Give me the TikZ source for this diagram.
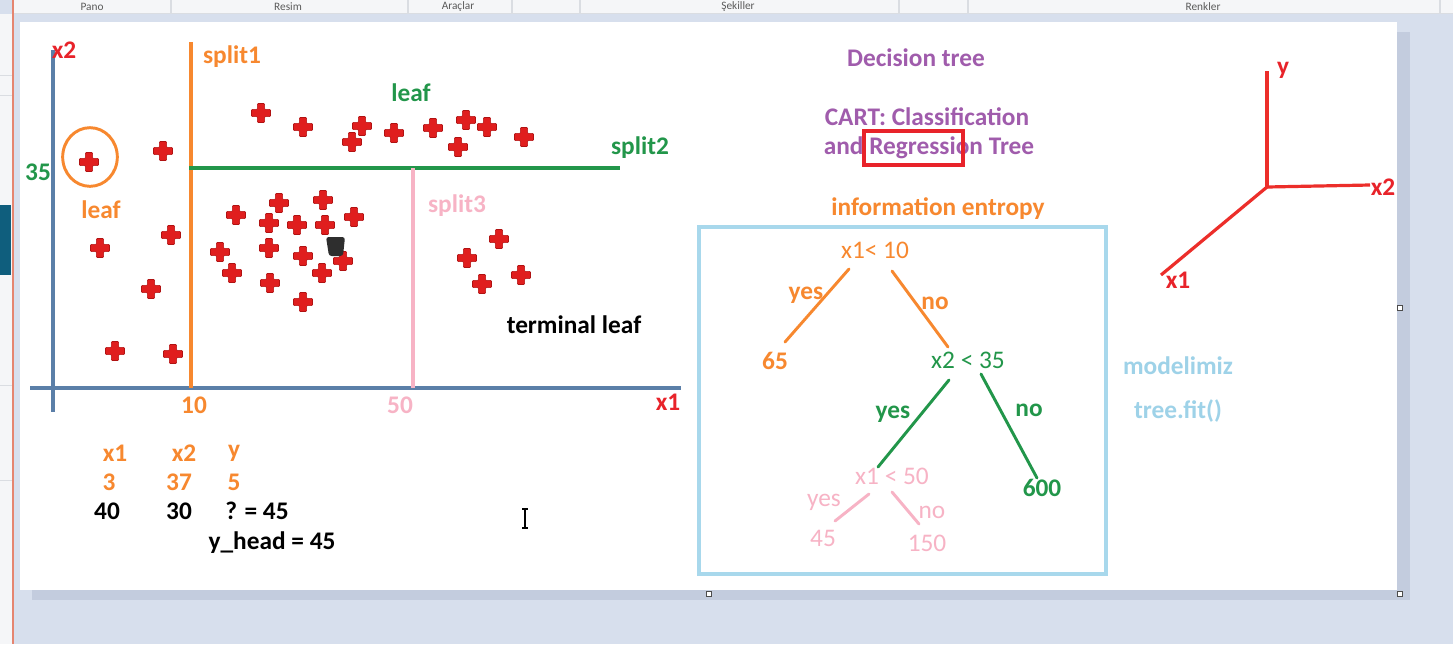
\documentclass[tikz,border=0pt]{standalone}
\usepackage{fontspec}
\setmainfont{Carlito}
\usetikzlibrary{shapes.geometric}
\definecolor{bgblue}{HTML}{D7DFED}
\definecolor{shadowblue}{HTML}{C3CCDE}
\definecolor{barbg}{HTML}{F5F6F8}
\definecolor{bargray}{HTML}{5A5A5A}
\definecolor{sepgray}{HTML}{DADDE2}
\definecolor{winred}{HTML}{E58570}
\definecolor{tealblk}{HTML}{0F5E7D}
\definecolor{axisblue}{HTML}{5B7FA8}
\definecolor{orng}{HTML}{F7882F}
\definecolor{grn}{HTML}{22964A}
\definecolor{pnk}{HTML}{F7B3C5}
\definecolor{redtxt}{HTML}{E8232A}
\definecolor{crossred}{HTML}{E01E1E}
\definecolor{crossedge}{HTML}{B01212}
\definecolor{purp}{HTML}{A05CAC}
\definecolor{boxblue}{HTML}{A8D8EC}
\definecolor{ltblue}{HTML}{9ED2E8}
\definecolor{axred}{HTML}{EC2E2A}
\tikzset{
  txt/.style={font=\fontsize{19}{22}\selectfont\bfseries, inner sep=0pt, anchor=center},
  txtreg/.style={font=\fontsize{19}{22}\selectfont, inner sep=0pt, anchor=center},
  barlbl/.style={font=\fontsize{8.5}{9}\selectfont, text=bargray, inner sep=0pt, anchor=center},
  splitline/.style={line width=2.4pt},
  treeline/.style={line width=2.2pt, line cap=round},
  pics/plusmark/.style={code={
    \filldraw[fill=crossred, draw=crossedge, line width=0.4pt, rounded corners=0.6pt]
      (-3.6,-9.5)--(3.6,-9.5)--(3.6,-3.6)--(9.5,-3.6)--(9.5,3.6)--(3.6,3.6)--(3.6,9.5)
      --(-3.6,9.5)--(-3.6,3.6)--(-9.5,3.6)--(-9.5,-3.6)--(-3.6,-3.6)--cycle;}},
  handle/.style={draw=black!70, fill=white, line width=0.5pt, minimum size=4pt, inner sep=0pt}
}
\begin{document}
\begin{tikzpicture}[x=0.75pt,y=-0.75pt]
\useasboundingbox (0,0) rectangle (1453,644);
% window background
\fill[bgblue] (0,0) rectangle (1453,644);
% left strip
\fill[barbg] (0,14) rectangle (13,644);
\fill[tealblk] (0,205) rectangle (11,275);
\draw[sepgray, line width=0.6pt] (0,75)--(12,75) (0,95)--(12,95) (0,385)--(12,385) (0,480)--(12,480);
\draw[winred, line width=1.2pt] (13,0)--(13,644);
% top bar
\fill[barbg] (14,0) rectangle (1453,13);
\node[barlbl] (tbPano) at (92,6.5) {Pano};
\node[barlbl] (tbResim) at (288,6.5) {Resim};
\node[barlbl] (tbArac) at (458,6.5) {Araçlar};
\node[barlbl] (tbSek) at (738,6.5) {Şekiller};
\node[barlbl] (tbRenk) at (1203,6.5) {Renkler};
\draw[sepgray, line width=0.8pt] (171,0)--(171,13) (408,0)--(408,13) (512,0)--(512,13)
  (580,0)--(580,13) (899,0)--(899,13) (968,0)--(968,13) (1440,0)--(1440,13);
\draw[sepgray, line width=1pt] (14,13.5)--(1453,13.5);
% canvas shadow and canvas
\fill[shadowblue] (32,32) rectangle (1410,600);
\fill[white] (20,22) rectangle (1397,590);
% handles
\node[handle] (h1) at (1400,308) {};
\node[handle] (h2) at (709,594) {};
\node[handle] (h3) at (1400,594) {};

% ===== scatter plot =====
\coordinate (yaxTop) at (53,50);
\coordinate (yaxBot) at (53,412);
\coordinate (xaxL) at (30,388);
\coordinate (xaxR) at (681,388);
\draw[axisblue, line width=3pt] (yaxTop)--(yaxBot);
\draw[axisblue, line width=3pt] (xaxL)--(xaxR);
\node[txt, text=redtxt] (lx2) at (64,50) {x2};
\node[txt, text=redtxt] (lx1) at (668,402) {x1};
\node[txt, text=grn] (l35) at (38,172) {35};
\node[txt, text=orng] (l10) at (194,405) {10};
\node[txt, text=pnk] (l50) at (400,405) {50};

\coordinate (s1top) at (191,42);
\coordinate (s1bot) at (191,388);
\coordinate (s2l) at (189,168);
\coordinate (s2r) at (620,168);
\coordinate (s3top) at (413,168);
\coordinate (s3bot) at (413,388);
\draw[orng, splitline] (s1top)--(s1bot);
\draw[grn, splitline] (s2l)--(s2r);
\draw[pnk, splitline] (s3top)--(s3bot);
\node[txt, text=orng] (lsplit1) at (232,57) {split1};
\node[txt, text=grn] (lsplit2) at (640,148) {split2};
\node[txt, text=pnk] (lsplit3) at (457,206) {split3};
\node[txt, text=grn] (lleafg) at (411,93) {leaf};
\node[txt, text=orng] (lleafo) at (101,210) {leaf};
\node[txt, text=black] (lterm) at (574,325) {terminal leaf};
\node[draw=orng, line width=2.2pt, ellipse, minimum width=41pt, minimum height=44pt, inner sep=0pt] (circ) at (90,157) {};

% crosses
\foreach \px/\py in {261/113,303/127,362/126,352/142,394/133,433/128,466/120,487/127,458/147,524/137,
  89/162,163/151,100/248,171/235,151/289,115/351,173/354,
  279/203,323/200,236/215,269/223,297/225,325/225,354/217,220/252,269/248,303/256,343/261,232/273,322/273,270/283,303/302,
  499/239,467/258,521/275,482/284}
  \pic at (\px,\py) {plusmark};
% dark blob
\fill[black!82, rounded corners=2pt] (326,237)--(345,237)--(343,256)--(329,256)--cycle;

% table
\node[txt, text=orng] (tx1) at (115,453) {x1};
\node[txt, text=orng] (tx2) at (184,453) {x2};
\node[txt, text=orng] (ty) at (234,453) {y};
\node[txt, text=orng] (t3) at (109,482) {3};
\node[txt, text=orng] (t37) at (179,482) {37};
\node[txt, text=orng] (t5) at (234,482) {5};
\node[txt] (t40) at (107,511) {40};
\node[txt] (t30) at (179,511) {30};
\node[txt] (tq) at (257,511) {? = 45};
\node[txt] (tyh) at (272,543) {y\_head = 45};
% I-beam cursor
\coordinate (ibTop) at (525,509);
\coordinate (ibBot) at (525,528);
\draw[black, line width=0.9pt] (ibTop)--(ibBot);
\draw[black, line width=0.9pt] ([xshift=-2.2pt]ibTop)--([xshift=2.2pt]ibTop) ([xshift=-2.2pt]ibBot)--([xshift=2.2pt]ibBot);

% ===== right part =====
\node[txt, text=purp] (dt) at (916,58) {Decision tree};
\node[txt, text=purp] (cart) at (927,117) {CART: Classification};
\node[txt, text=purp] (andreg) at (929,148) {and Regression Tree};
\draw[redtxt, line width=2.4pt] (864,131) rectangle (963,165);
\node[txt, text=orng] (ie) at (938,209) {information entropy};
\coordinate (boxNW) at (699,227);
\coordinate (boxSE) at (1106,574);
\draw[boxblue, line width=2.6pt] (boxNW) rectangle (boxSE);

% tree
\node[txtreg, text=orng] (n1) at (875,250) {x1< 10};
\node[txt, text=orng] (n65) at (775,361) {65};
\node[txtreg, text=grn] (n2) at (968,360) {x2 < 35};
\node[txt, text=grn] (n600) at (1042,488) {600};
\node[txtreg, text=pnk] (n3) at (892,476) {x1 < 50};
\node[txtreg, text=pnk] (n45) at (823,538) {45};
\node[txtreg, text=pnk] (n150) at (927,543) {150};
\coordinate (a1) at (849,269); \coordinate (a2) at (785,342);
\coordinate (b1) at (892,271); \coordinate (b2) at (948,347);
\coordinate (c1) at (949,380); \coordinate (c2) at (878,467);
\coordinate (d1) at (981,374); \coordinate (d2) at (1037,478);
\coordinate (e1) at (869,494); \coordinate (e2) at (835,521);
\coordinate (f1) at (892,492); \coordinate (f2) at (919,524);
\draw[orng, treeline] (a1)--(a2);
\draw[orng, treeline] (b1)--(b2);
\draw[grn, treeline] (c1)--(c2);
\draw[grn, treeline] (d1)--(d2);
\draw[pnk, treeline] (e1)--(e2);
\draw[pnk, treeline] (f1)--(f2);
\node[txt, text=orng] (y1) at (806,295) {yes};
\node[txt, text=orng] (no1) at (935,303) {no};
\node[txt, text=grn] (y2) at (893,414) {yes};
\node[txt, text=grn] (no2) at (1029,410) {no};
\node[txtreg, text=pnk] (y3) at (824,502) {yes};
\node[txtreg, text=pnk] (no3) at (932,512) {no};

\node[txt, text=ltblue] (mod) at (1178,366) {modelimiz};
\node[txt, text=ltblue] (fit) at (1178,411) {tree.fit()};

% 3D axes
\coordinate (org) at (1267,187);
\coordinate (yEnd) at (1267,71);
\coordinate (x2End) at (1370,185);
\coordinate (x1End) at (1161,275);
\draw[axred, line width=2.4pt] (org)--(yEnd);
\draw[axred, line width=2.4pt] (org)--(x2End);
\draw[axred, line width=2.4pt] (org)--(x1End);
\node[txt, text=redtxt] (ay) at (1283,70) {y};
\node[txt, text=redtxt] (ax2) at (1383,187) {x2};
\node[txt, text=redtxt] (ax1) at (1178,280) {x1};
\end{tikzpicture}
\end{document}
